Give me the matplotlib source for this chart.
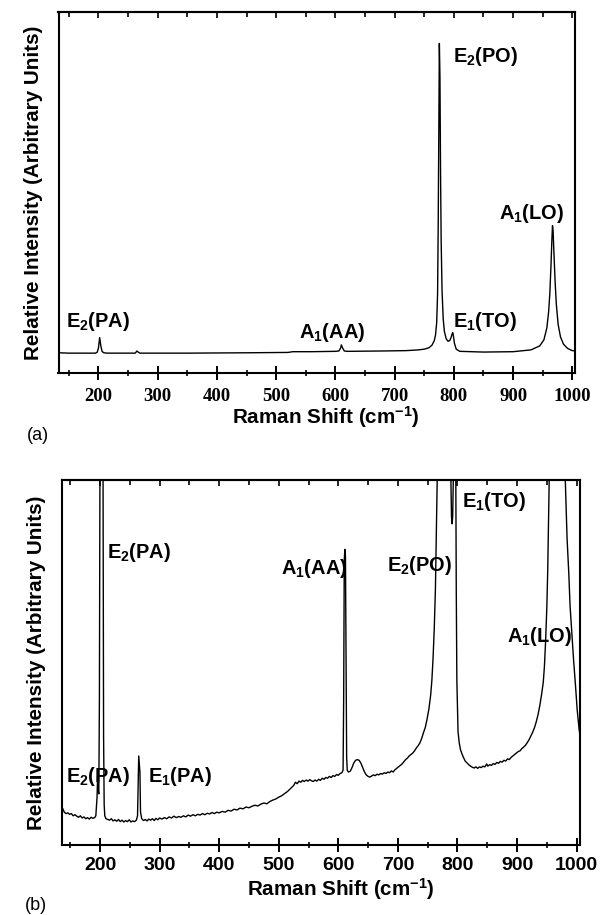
import matplotlib
matplotlib.use('Agg')
import matplotlib.pyplot as plt
from matplotlib import font_manager as fm
from matplotlib.ticker import MultipleLocator, NullLocator


def has_font(name):
    try:
        fm.findfont(fm.FontProperties(family=name), fallback_to_default=False)
        return True
    except Exception:
        return False


if has_font('Liberation Sans Narrow'):
    SANS, K = 'Liberation Sans Narrow', 1.0
else:
    SANS, K = 'Liberation Sans', 0.85

plt.rcParams['mathtext.fontset'] = 'custom'
plt.rcParams['mathtext.rm'] = SANS + ':bold'
plt.rcParams['mathtext.it'] = SANS + ':bold'
plt.rcParams['mathtext.bf'] = SANS + ':bold'
plt.rcParams['mathtext.default'] = 'rm'

# ---------------- data ----------------
# panel (a): Raman shift (cm-1) and relative intensity (arb. units)
shift_a = [132.5, 150, 180, 195, 198, 200, 202, 204, 206, 209, 215, 262, 265, 267, 270,
           350, 450, 520, 528, 560, 600, 606, 609, 610, 612, 615, 620, 680, 720, 740,
           750, 758, 763, 767, 769, 771, 772.5, 773.5, 774.5, 775.5, 776.5, 777.5, 778.5,
           780, 782, 784, 787, 790, 793, 795, 797, 798, 799, 801, 804, 810, 850, 900,
           930, 945, 952, 957, 960, 962, 964, 965.5, 966.5, 967.5, 969, 971, 973, 976,
           980, 985, 992, 1000, 1004.5]
inten_a = [56, 55, 55, 55, 58, 70, 98, 75, 60, 56, 55, 55, 61, 58, 55,
           55, 56, 57, 59, 59, 60, 61, 70, 78, 70, 61, 60, 61, 62, 64,
           66, 70, 77, 90, 105, 140, 220, 400, 650, 913, 820, 560, 370,
           230, 150, 115, 95, 88, 90, 97, 108, 112, 105, 82, 66, 60, 58, 59,
           64, 75, 92, 125, 170, 220, 300, 370, 408, 395, 330, 250, 190, 135,
           100, 80, 68, 62, 61]

# panel (b): same axes, expanded intensity scale (peaks run off-scale)
shift_b = [135.7, 138, 140, 143, 146, 149, 152, 155, 158, 161, 164, 167, 170, 173, 176, 179,
           182, 185, 188, 191, 193, 195, 196, 197, 198, 199, 200, 205, 206, 207, 208, 210,
           213, 216, 219, 222, 225, 228, 231, 234, 237, 240, 243, 246, 249, 252, 255, 258,
           261, 263, 265, 267, 268, 270, 273, 276, 279, 282, 285, 288, 291, 294, 297, 300,
           304, 308, 312, 316, 320, 324, 328, 332, 336, 340, 344, 348, 352, 356, 360, 364,
           368, 372, 376, 380, 384, 388, 392, 396, 400, 405, 410, 415, 420, 425, 430, 435,
           440, 445, 450, 455, 460, 465, 470, 475, 480, 485, 490, 495, 500, 505, 510, 515,
           520, 525, 528, 531, 534, 537, 540, 543, 546, 549, 552, 555, 558, 561, 564, 567,
           570, 573, 576, 579, 582, 585, 588, 591, 594, 597, 600, 603, 606, 608, 609, 610,
           611, 612, 613, 614, 615, 617, 620, 623, 626, 629, 632, 635, 638, 641, 644, 647,
           650, 653, 656, 659, 662, 665, 668, 671, 674, 677, 680, 683, 686, 689, 692, 695,
           698, 701, 704, 707, 710, 713, 716, 719, 722, 725, 728, 731, 734, 737, 740, 743,
           746, 749, 752, 755, 757, 759, 761, 763, 764, 765, 766, 767, 785, 789, 790, 791,
           792, 793, 795, 797, 798, 799, 800, 801, 803, 805, 807, 810, 813, 816, 819, 822,
           825, 828, 831, 834, 837, 840, 843, 846, 849, 851, 854, 857, 860, 863, 866, 869,
           872, 875, 878, 881, 884, 887, 890, 893, 896, 899, 902, 905, 908, 911, 914, 917,
           920, 923, 926, 929, 932, 935, 938, 941, 944, 946, 948, 950, 951.5, 953, 954, 955,
           979, 981, 984, 987, 989, 992, 995, 998, 1001, 1004, 1005.7]
inten_b = [105, 98, 90, 86, 88, 84, 86, 80, 83, 79, 76, 80, 74, 77, 72, 75,
           71, 76, 73, 75, 80, 130, 187, 150, 140, 400, 1100, 1100, 300, 110, 80, 72,
           70, 68, 72, 66, 69, 65, 70, 64, 68, 63, 67, 64, 69, 63, 66, 64,
           68, 80, 244, 200, 90, 72, 67, 70, 66, 71, 68, 72, 67, 73, 69, 74,
           71, 75, 72, 77, 74, 79, 75, 78, 76, 80, 77, 82, 79, 83, 80, 84,
           82, 86, 83, 87, 85, 89, 86, 90, 88, 92, 90, 95, 93, 98, 96, 101,
           99, 104, 102, 106, 109, 107, 112, 115, 113, 119, 123, 126, 131, 135, 141, 147,
           155, 163, 172, 168, 175, 172, 177, 174, 178, 175, 179, 176, 174, 178, 175, 180,
           177, 183, 180, 185, 183, 188, 185, 190, 188, 193, 191, 196, 198, 205, 400, 780,
           810, 790, 500, 240, 205, 200, 202, 212, 225, 232, 234, 232, 224, 212, 200, 192,
           188, 186, 189, 192, 190, 194, 192, 196, 194, 198, 196, 200, 198, 203, 200, 206,
           210, 214, 218, 222, 228, 234, 238, 244, 248, 252, 258, 266, 272, 280, 292, 308,
           322, 345, 372, 410, 450, 510, 590, 700, 800, 900, 1000, 1100, 1100, 1000, 900, 880,
           900, 1000, 1100, 1100, 700, 450, 380, 310, 280, 262, 252, 240, 230, 225, 220, 216,
           213, 211, 214, 210, 214, 212, 216, 214, 222, 216, 220, 218, 223, 221, 226, 224,
           229, 227, 232, 230, 236, 234, 240, 244, 248, 252, 256, 258, 264, 268, 273, 280,
           288, 298, 308, 320, 336, 355, 380, 410, 445, 490, 560, 650, 750, 900, 1000, 1100,
           1100, 1000, 840, 740, 656, 580, 505, 440, 370, 320, 300]

xlim_a = (132.5, 1004.5)
xlim_b = (135.7, 1005.7)

peak_labels_a = ['E$_2$(PA)', 'A$_1$(AA)', 'E$_2$(PO)', 'E$_1$(TO)', 'A$_1$(LO)']
peak_labels_b = ['E$_2$(PA)', 'E$_2$(PA)', 'E$_1$(PA)', 'A$_1$(AA)', 'E$_2$(PO)',
                 'E$_1$(TO)', 'A$_1$(LO)']

# label placement (left edge in cm-1, baseline in intensity units)
pos_a = [(146, 128), (538, 96), (799, 862), (799, 128), (877, 427)]
pos_b = [(211, 785), (143, 172), (281, 172), (504, 742), (681, 752), (808, 925), (884, 555)]

XLABEL = 'Raman Shift (cm$^{-1}$)'
YLABEL = 'Relative Intensity (Arbitrary Units)'

# ---------------- figure ----------------
W, H = 604, 915
fig = plt.figure(figsize=(W / 100, H / 100), dpi=100)


def axes_px(left, top, right, bottom):
    return fig.add_axes([left / W, 1 - bottom / H, (right - left) / W, (bottom - top) / H])


ax_a = axes_px(58.5, 12, 575, 373)
ax_b = axes_px(61.7, 480, 580, 845)

lab_font = dict(family=SANS, weight='bold', size=17 * K)
axlab_font = dict(family=SANS, weight='bold', size=17.5 * K)


def style(ax, xlim, tick_family, tick_size, tick_pad):
    ax.set_xlim(*xlim)
    ax.set_ylim(0, 1000)
    ax.yaxis.set_major_locator(NullLocator())
    ax.yaxis.set_minor_locator(NullLocator())
    ax.xaxis.set_major_locator(MultipleLocator(100))
    ax.xaxis.set_minor_locator(MultipleLocator(50))
    ax.tick_params(axis='x', which='major', direction='inout', length=10, width=1.4,
                   pad=tick_pad)
    ax.tick_params(axis='x', which='minor', direction='inout', length=4.5, width=1.2)
    for s in ax.spines.values():
        s.set_linewidth(1.5)
    for t in ax.get_xticklabels():
        t.set_fontfamily(tick_family)
        t.set_fontweight('bold')
        t.set_fontsize(tick_size)
    sec = ax.secondary_xaxis('top')
    sec.xaxis.set_major_locator(MultipleLocator(100))
    sec.xaxis.set_minor_locator(MultipleLocator(50))
    sec.tick_params(axis='x', which='major', direction='in', length=4, width=1.2,
                    labeltop=False)
    sec.tick_params(axis='x', which='minor', direction='in', length=3.5, width=1.2)
    sec.spines['top'].set_linewidth(1.5)


# panel (a)
ax_a.plot(shift_a, inten_a, color='black', lw=1.0)
style(ax_a, xlim_a, 'Liberation Serif', 13.5, 6)
for txt, (x, y) in zip(peak_labels_a, pos_a):
    ax_a.text(x, y, txt, ha='left', va='baseline', **lab_font)
ax_a.set_xlabel(XLABEL, **axlab_font)
ax_a.xaxis.set_label_coords(0.517, -0.087)
ax_a.set_ylabel(YLABEL, labelpad=11, **axlab_font)

# panel (b)
ax_b.plot(shift_b, inten_b, color='black', lw=1.0)
style(ax_b, xlim_b, SANS, 16.5 * K, 3.5)
for txt, (x, y) in zip(peak_labels_b, pos_b):
    ax_b.text(x, y, txt, ha='left', va='baseline', **lab_font)
ax_b.set_xlabel(XLABEL, **axlab_font)
ax_b.xaxis.set_label_coords(0.539, -0.084)
ax_b.set_ylabel(YLABEL, labelpad=11, **axlab_font)

fig.text(37.5 / W, 1 - 435 / H, '(a)', ha='center', va='center',
         family='Liberation Sans', size=13)
fig.text(36 / W, 1 - 905 / H, '(b)', ha='center', va='center',
         family='Liberation Sans', size=13)

fig.savefig('out.png', dpi=100)
